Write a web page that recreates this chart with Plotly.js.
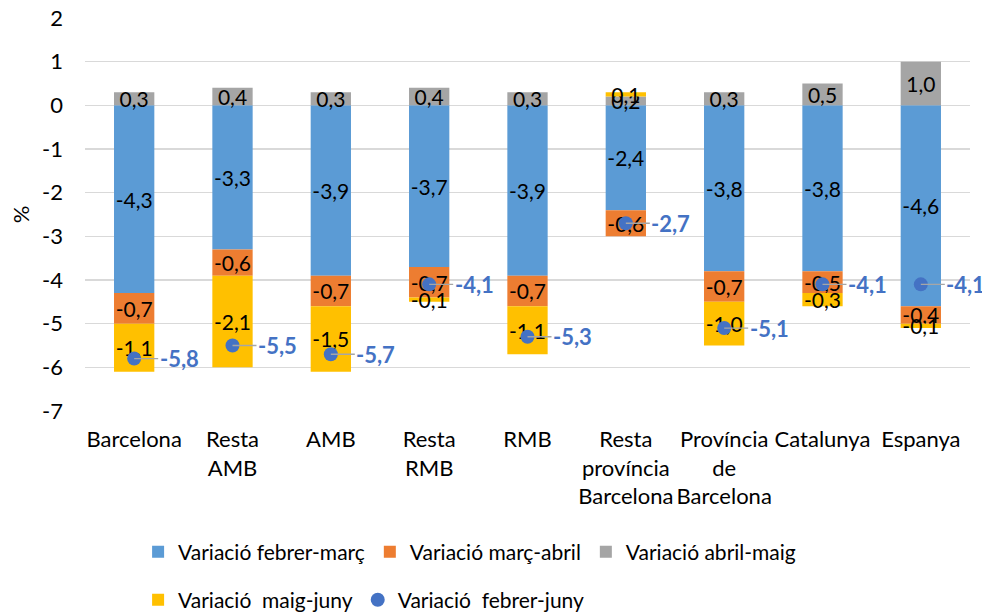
<!DOCTYPE html>
<html><head><meta charset="utf-8">
<script src="https://cdn.plot.ly/plotly-3.0.1.min.js"></script>
<style>html,body{margin:0;padding:0;background:#fff}</style>
</head><body><div id="chart" style="width:982px;height:614px"></div>
<script>
const categories = ["Barcelona","Resta<br>AMB","AMB","Resta<br>RMB","RMB","Resta<br>província<br>Barcelona","Província<br>de<br>Barcelona","Catalunya","Espanya"];
const febMar = [-4.3,-3.3,-3.9,-3.7,-3.9,-2.4,-3.8,-3.8,-4.6];
const marAbr = [-0.7,-0.6,-0.7,-0.7,-0.7,-0.6,-0.7,-0.5,-0.4];
const abrMai = [0.3,0.4,0.3,0.4,0.3,0.2,0.3,0.5,1.0];
const maiJun = [-1.1,-2.1,-1.5,-0.1,-1.1,0.1,-1.0,-0.3,-0.1];
const febJun = [-5.8,-5.5,-5.7,-4.1,-5.3,-2.7,-5.1,-4.1,-4.1];
const yTicks = [2,1,0,-1,-2,-3,-4,-5,-6,-7];
const seriesNames = ["Variació febrer-març","Variació març-abril","Variació abril-maig","Variació\u00a0 maig-juny","Variació\u00a0 febrer-juny"];

const FONT = "Lato, 'Open Sans', sans-serif";
const fmt = v => v.toFixed(1).replace('.', ',');
const fmtTick = v => String(v);

function barTrace(vals, name, color) {
  return {
    type: 'bar', x: categories, y: vals, name: name,
    marker: {color: color, line: {width: 0}},
    text: vals.map(fmt), textposition: 'inside', insidetextanchor: 'middle',
    constraintext: 'none', textangle: 0, cliponaxis: false,
    textfont: {family: FONT, size: 21, color: '#000'},
    hoverinfo: 'skip', legend: 'legend'
  };
}

const traces = [
  barTrace(febMar, seriesNames[0], '#5B9BD5'),
  barTrace(marAbr, seriesNames[1], '#ED7D31'),
  barTrace(abrMai, seriesNames[2], '#A5A5A5'),
  Object.assign(barTrace(maiJun, seriesNames[3], '#FFC000'), {legend: 'legend2'}),
  {
    type: 'scatter', mode: 'markers', x: categories, y: febJun, name: seriesNames[4],
    marker: {color: '#4472C4', size: 14}, legend: 'legend2', cliponaxis: false
  }
];

const annotations = categories.map((c, i) => ({
  x: c, y: febJun[i], xref: 'x', yref: 'y',
  text: '<b>' + fmt(febJun[i]) + '</b>',
  showarrow: true, arrowhead: 0, arrowwidth: 1.3, arrowcolor: '#A6A6A6',
  ax: 45, ay: 0, standoff: 0, borderpad: 1,
  font: {family: FONT, size: 22, color: '#4472C4'}
}));

const layout = {
  width: 982, height: 614,
  paper_bgcolor: '#fff', plot_bgcolor: '#fff',
  margin: {l: 85, r: 12, t: 18, b: 203, autoexpand: false},
  barmode: 'relative', bargap: 0.59,
  font: {family: FONT, size: 22, color: '#000'},
  xaxis: {
    type: 'category', range: [-0.5, categories.length - 0.5], autorange: false,
    showgrid: false, showline: false, zeroline: false, ticks: '', tickangle: 0,
    tickfont: {family: FONT, size: 22, color: '#000'}, automargin: false, ticklabelstandoff: 13
  },
  yaxis: {
    range: [-7, 2], autorange: false, tickvals: yTicks, ticktext: yTicks.map(fmtTick),
    showgrid: true, gridcolor: '#D9D9D9', gridwidth: 1.3, zeroline: false, showline: false, ticks: '',
    tickfont: {family: FONT, size: 22, color: '#000'}, automargin: false, ticklabelstandoff: 21,
    title: {text: '%', font: {family: FONT, size: 22, color: '#000'}, standoff: 6}
  },
  showlegend: true,
  legend: {
    orientation: 'h', x: 0.06, xanchor: 'left', y: -0.359, yanchor: 'middle',
    font: {family: FONT, size: 21, color: '#000'}, bgcolor: 'rgba(0,0,0,0)', traceorder: 'normal'
  },
  legend2: {
    orientation: 'h', x: 0.06, xanchor: 'left', y: -0.481, yanchor: 'middle',
    font: {family: FONT, size: 21, color: '#000'}, bgcolor: 'rgba(0,0,0,0)', traceorder: 'normal'
  },
  annotations: annotations
};

Plotly.newPlot('chart', traces, layout, {displayModeBar: false, staticPlot: true});
</script>
</body></html>
